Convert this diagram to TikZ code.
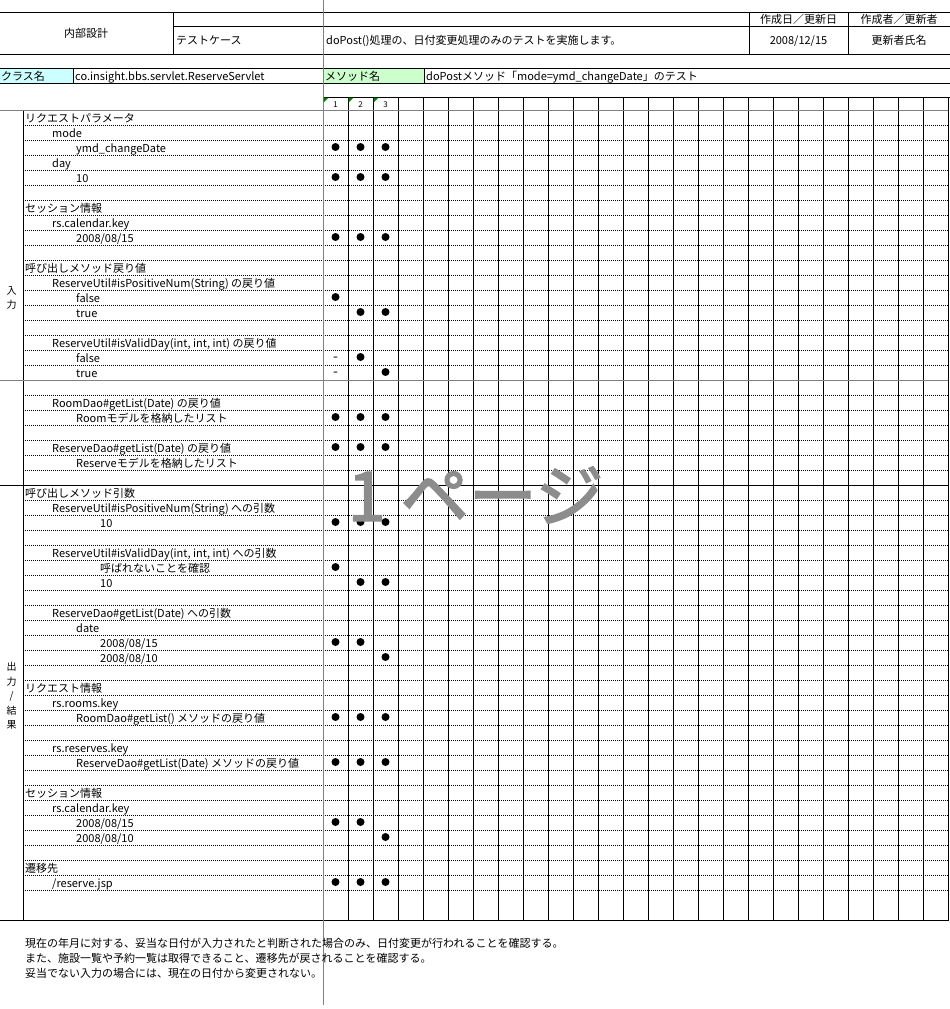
\documentclass[tikz,border=0pt]{standalone}
\usepackage{fontspec}
\setmainfont{Noto Sans CJK JP}
\newfontfamily\markfont[FakeBold=2.5]{Noto Sans CJK JP}
\usepackage{xcolor}
\usepackage{tikz}

\definecolor{pagegray}{HTML}{808080}
\definecolor{classcyan}{HTML}{CCFFFF}
\definecolor{methodgreen}{HTML}{CCFFCC}
\definecolor{markgreen}{HTML}{008000}
\definecolor{watergray}{HTML}{8C8C8C}

\tikzset{
  cell/.style={anchor=base west, inner sep=0pt, font=\fontsize{11}{13}\selectfont},
  mid/.style={anchor=base, inner sep=0pt, font=\fontsize{11}{13}\selectfont},
  hair/.style={line width=0.8pt, dash pattern=on 1pt off 1pt},
  rule/.style={line width=1pt},
}

\begin{document}
\begin{tikzpicture}[x=1pt, y=-1pt]
\useasboundingbox (0,0) rectangle (950,1009);

\fill[classcyan] (0,68.5) rectangle (73,83);
\fill[methodgreen] (323,68.5) rectangle (424,83);

\draw[rule] (0,12.5)--(950,12.5) (173,26)--(950,26) (0,54)--(950,54) (0,68.5)--(950,68.5) (0,83)--(950,83) (323,97)--(950,97);
\draw[rule] (173,12.5)--(173,54) (749,12.5)--(749,54) (848,12.5)--(848,54) (73,68.5)--(73,83) (424,68.5)--(424,83);

\node (design) at (86,33.5) [font=\fontsize{11}{13}\selectfont] {内部設計};
\node (testcase) at (176,44.5) [cell] {テストケース};
\node (summary) at (326,44.5) [cell] {doPost()処理の、日付変更処理のみのテストを実施します。};
\node (datehead) at (798.5,23.5) [mid] {作成日／更新日};
\node (authhead) at (899,23.5) [mid] {作成者／更新者};
\node (dateval) at (798.5,44.5) [mid] {2008/12/15};
\node (authval) at (899,44.5) [mid] {更新者氏名};
\node (classhead) at (1,80) [cell] {クラス名};
\node (classval) at (75,80) [cell] {co.insight.bbs.servlet.ReserveServlet};
\node (methodhead) at (325,80) [cell] {メソッド名};
\node (methodval) at (426,80) [cell] {doPostメソッド「mode=ymd\_changeDate」のテスト};

% grid
\foreach \k in {1,...,52} \draw[hair] (23,{110.5+15*\k})--(948,{110.5+15*\k});
\foreach \i in {1,...,25} \draw[rule] ({323+25*\i},97)--({323+25*\i},920.5);
\draw[rule] (23,110.5)--(23,920.5);
\draw[rule, pagegray] (0,110.5)--(948,110.5) (0,380.5)--(948,380.5);
\draw[rule] (0,485.5)--(948,485.5) (0,920.5)--(948,920.5);
\draw[rule, pagegray] (323,0)--(323,1005);

\foreach \i in {0,1,2} \fill[markgreen] ({323.5+25*\i},97.5)--++(5,0)--++(-5,5)--cycle;
\node (case1) at (335.5,104.5) [inner sep=0pt, font=\fontsize{8}{9}\selectfont] {1};
\node (case2) at (360.5,104.5) [inner sep=0pt, font=\fontsize{8}{9}\selectfont] {2};
\node (case3) at (385.5,104.5) [inner sep=0pt, font=\fontsize{8}{9}\selectfont] {3};

\node (inlabel) at (11.5,298) [align=center, inner sep=0pt, font=\fontsize{10}{14}\selectfont] {入\\力};
\node (outlabel) at (11.5,696) [align=center, inner sep=0pt, font=\fontsize{10}{14.5}\selectfont] {出\\力\\/\\結\\果};

% input rows
\node (reqparam) at (25,122.5) [cell] {リクエストパラメータ};
\node (mode) at (52,137.5) [cell] {mode};
\node (ymd) at (76,152.5) [cell] {ymd\_changeDate};
\node (day) at (52,167.5) [cell] {day};
\node (dayval) at (76,182.5) [cell] {10};
\node (sess) at (25,212.5) [cell] {セッション情報};
\node (calkey) at (52,227.5) [cell] {rs.calendar.key};
\node (calval) at (76,242.5) [cell] {2008/08/15};
\node (callret) at (25,272.5) [cell] {呼び出しメソッド戻り値};
\node (posret) at (52,287.5) [cell] {ReserveUtil\#isPositiveNum(String) の戻り値};
\node (posfalse) at (76,302.5) [cell] {false};
\node (postrue) at (76,317.5) [cell] {true};
\node (validret) at (52,347.5) [cell] {ReserveUtil\#isValidDay(int, int, int) の戻り値};
\node (validfalse) at (76,362.5) [cell] {false};
\node (validtrue) at (76,377.5) [cell] {true};
\node (roomret) at (52,407.5) [cell] {RoomDao\#getList(Date) の戻り値};
\node (roomlist) at (76,422.5) [cell] {Roomモデルを格納したリスト};
\node (rsvret) at (52,452.5) [cell] {ReserveDao\#getList(Date) の戻り値};
\node (rsvlist) at (76,467.5) [cell] {Reserveモデルを格納したリスト};

% output rows
\node (callarg) at (25,497.5) [cell] {呼び出しメソッド引数};
\node (posarg) at (52,512.5) [cell] {ReserveUtil\#isPositiveNum(String) への引数};
\node (posargval) at (100,527.5) [cell] {10};
\node (validarg) at (52,557.5) [cell] {ReserveUtil\#isValidDay(int, int, int) への引数};
\node (notcalled) at (100,572.5) [cell] {呼ばれないことを確認};
\node (validargval) at (100,587.5) [cell] {10};
\node (rsvarg) at (52,617.5) [cell] {ReserveDao\#getList(Date) への引数};
\node (date) at (76,632.5) [cell] {date};
\node (date15) at (100,647.5) [cell] {2008/08/15};
\node (date10) at (100,662.5) [cell] {2008/08/10};
\node (reqinfo) at (25,692.5) [cell] {リクエスト情報};
\node (roomskey) at (52,707.5) [cell] {rs.rooms.key};
\node (roomsval) at (76,722.5) [cell] {RoomDao\#getList() メソッドの戻り値};
\node (rsvkey) at (52,752.5) [cell] {rs.reserves.key};
\node (rsvval) at (76,767.5) [cell] {ReserveDao\#getList(Date) メソッドの戻り値};
\node (sessout) at (25,797.5) [cell] {セッション情報};
\node (calkeyout) at (52,812.5) [cell] {rs.calendar.key};
\node (cal15) at (76,827.5) [cell] {2008/08/15};
\node (cal10) at (76,842.5) [cell] {2008/08/10};
\node (dest) at (25,872.5) [cell] {遷移先};
\node (jsp) at (52,887.5) [cell] {/reserve.jsp};

% marks
\fill (335.5,147) circle (4pt) (360.5,147) circle (4pt) (385.5,147) circle (4pt);
\fill (335.5,177) circle (4pt) (360.5,177) circle (4pt) (385.5,177) circle (4pt);
\fill (335.5,237) circle (4pt) (360.5,237) circle (4pt) (385.5,237) circle (4pt);
\fill (335.5,297) circle (4pt) (360.5,312) circle (4pt) (385.5,312) circle (4pt);
\fill (360.5,357) circle (4pt) (385.5,372) circle (4pt);
\node (skip1) at (335.5,361) [mid, font=\fontsize{14}{16}\selectfont] {-};
\node (skip2) at (335.5,376) [mid, font=\fontsize{14}{16}\selectfont] {-};
\fill (335.5,417) circle (4pt) (360.5,417) circle (4pt) (385.5,417) circle (4pt);
\fill (335.5,447) circle (4pt) (360.5,447) circle (4pt) (385.5,447) circle (4pt);
\fill (335.5,522) circle (4pt) (360.5,522) circle (4pt) (385.5,522) circle (4pt);
\fill (335.5,567) circle (4pt) (360.5,582) circle (4pt) (385.5,582) circle (4pt);
\fill (335.5,642) circle (4pt) (360.5,642) circle (4pt) (385.5,657) circle (4pt);
\fill (335.5,717) circle (4pt) (360.5,717) circle (4pt) (385.5,717) circle (4pt);
\fill (335.5,762) circle (4pt) (360.5,762) circle (4pt) (385.5,762) circle (4pt);
\fill (335.5,822) circle (4pt) (360.5,822) circle (4pt) (385.5,837) circle (4pt);
\fill (335.5,882) circle (4pt) (360.5,882) circle (4pt) (385.5,882) circle (4pt);

\node (note1) at (25,947.5) [cell] {現在の年月に対する、妥当な日付が入力されたと判断された場合のみ、日付変更が行われることを確認する。};
\node (note2) at (25,962.5) [cell] {また、施設一覧や予約一覧は取得できること、遷移先が戻されることを確認する。};
\node (note3) at (25,977.5) [cell] {妥当でない入力の場合には、現在の日付から変更されない。};

\node (pagemark) at (475.5,495) [inner sep=0pt, watergray, font=\markfont\fontsize{68}{70}\selectfont] {1 ページ};

\end{tikzpicture}
\end{document}
